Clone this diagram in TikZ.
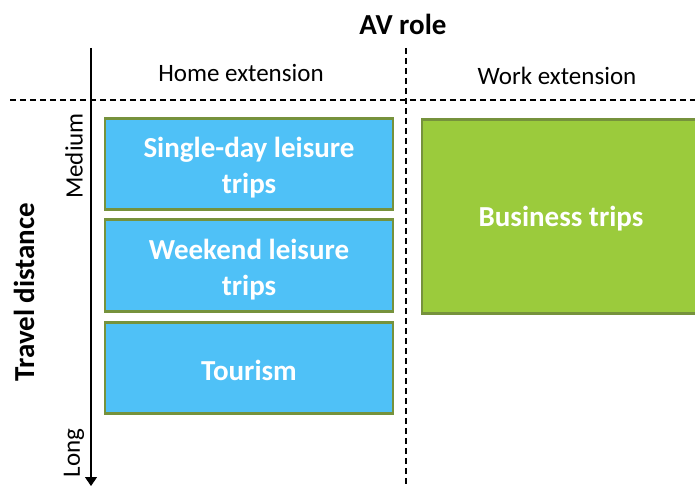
\documentclass[tikz,border=0pt]{standalone}
\usepackage{fontspec}
\setmainfont{Carlito}
\usetikzlibrary{arrows.meta}
\definecolor{boxblue}{RGB}{79,193,247}
\definecolor{boxgreen}{RGB}{155,203,60}
\definecolor{boxedge}{RGB}{118,146,60}
\begin{document}
\begin{tikzpicture}[x=1pt,y=-1pt,
  tripbox/.style={draw=boxedge,line width=2.5pt,inner sep=0pt},
  triptext/.style={text=white,font=\fontsize{29}{36}\selectfont\bfseries,align=center,inner sep=0pt},
  hometrip/.style={tripbox,fill=boxblue,minimum width=288pt,minimum height=91pt},
  divline/.style={dashed,line width=1.3pt,dash pattern=on 6pt off 4pt},
  collabel/.style={font=\fontsize{25}{30}\selectfont},
  axislabel/.style={font=\fontsize{25}{30}\selectfont,rotate=90}]
\useasboundingbox (0,0) rectangle (695,486);
% dividers
\coordinate (hl) at (10,100);
\coordinate (hr) at (697,100);
\coordinate (vt) at (406,48);
\coordinate (vb) at (406,488);
\draw[divline] (hl) -- (hr);
\draw[divline] (vt) -- (vb);
% axis
\coordinate (at) at (91,48);
\coordinate (ab) at (91,486);
\draw[line width=1.3pt,-{Triangle[width=12pt,length=9pt]}] (at) -- (ab);
% titles
\node[font=\fontsize{29}{34}\selectfont\bfseries] (avrole) at (403,24) {AV role};
\node[collabel] (home) at (241,73) {Home extension};
\node[collabel] (work) at (557,76) {Work extension};
\node[font=\fontsize{29}{34}\selectfont\bfseries,rotate=90] (travel) at (24,292) {Travel distance};
\node[axislabel] (medium) at (74,156) {Medium};
\node[axislabel] (long) at (74,453) {Long};
% boxes
\node[hometrip,label={[triptext,yshift=-4pt]center:Single-day leisure\\trips}] (single) at (249,164) {};
\node[hometrip,minimum height=92pt,label={[triptext,yshift=-4pt]center:Weekend leisure\\trips}] (weekend) at (249,265.5) {};
\node[hometrip,label={[triptext,yshift=-2pt]center:Tourism}] (tourism) at (249,368) {};
\node[tripbox,fill=boxgreen,minimum width=278pt,minimum height=194pt,label={[triptext,yshift=-2pt]center:Business trips}] (business) at (561,216.5) {};
\end{tikzpicture}
\end{document}
